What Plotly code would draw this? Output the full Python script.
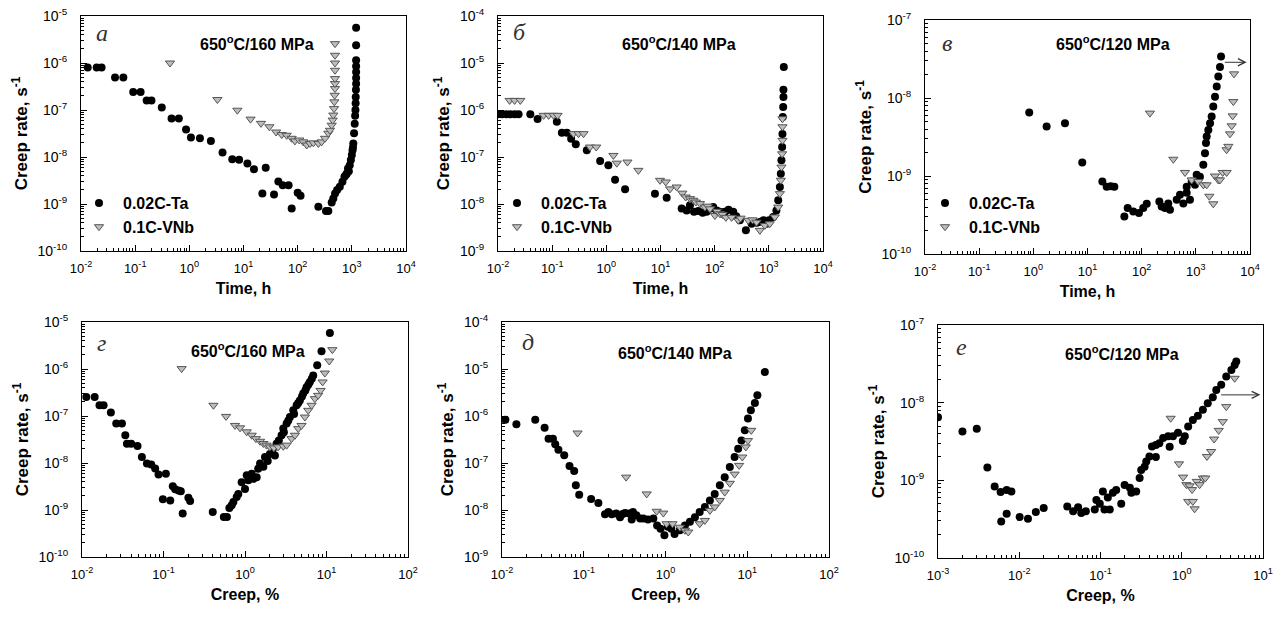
import math
import plotly.graph_objects as go

FONT = "Arial, 'Liberation Sans', sans-serif"
SERIF = "'Liberation Serif', 'Times New Roman', serif"

# --- data: (time h or creep %, creep rate 1/s) ---
time_ta_160 = [
    (0.0133, 8e-7), (0.0195, 8e-7), (0.024, 8e-7), (0.0425, 4.9e-7), (0.0605, 4.9e-7),
    (0.092, 2.43e-7), (0.126, 2.43e-7), (0.163, 1.6e-7), (0.2, 1.6e-7), (0.31, 1.13e-7),
    (0.47, 6.6e-8), (0.64, 6.6e-8), (0.87, 3.85e-8), (1.07, 2.6e-8), (1.57, 2.5e-8),
    (2.5, 2.2e-8), (4.1, 1.25e-8), (6.2, 9.0e-9), (8.3, 8.7e-9), (11.8, 7.3e-9),
    (15.6, 5.5e-9), (25.7, 5.9e-9), (22.3, 1.68e-9), (36.6, 1.6e-9), (44, 3.0e-9),
    (53, 2.5e-9), (68, 2.5e-9), (77.5, 8.05e-10), (100, 1.73e-9), (113, 1.5e-9),
    (241, 8.75e-10), (333, 7.1e-10), (368, 7.1e-10), (425, 1.08e-9), (455, 1.31e-9),
    (490, 1.68e-9), (535, 1.98e-9), (600, 2.33e-9), (670, 2.97e-9), (730, 3.8e-9),
    (780, 4.2e-9), (810, 4.47e-9), (850, 5.7e-9), (880, 5.0e-9), (915, 6.7e-9),
    (960, 8.6e-9), (1000, 1.1e-8), (1030, 1.4e-8), (1050, 1.6e-8), (1065, 1.94e-8),
    (1100, 3.2e-8), (1130, 5.1e-8), (1150, 7.5e-8), (1165, 1.0e-7), (1175, 1.4e-7),
    (1180, 1.9e-7), (1190, 2.7e-7), (1200, 3.6e-7), (1200, 4.8e-7), (1200, 6.4e-7),
    (1200, 8.5e-7), (1200, 1.15e-6), (1200, 2.4e-6), (1200, 5.6e-6),
]
time_vnb_160 = [
    (0.44, 1.0e-6), (3.3, 1.67e-7), (7.7, 9.9e-8), (13.5, 6.4e-8), (21, 5.2e-8),
    (30, 4.4e-8), (40, 3.4e-8), (50.7, 3.0e-8), (62.7, 2.9e-8), (77.5, 2.5e-8),
    (89, 2.2e-8), (107, 2.3e-8), (127, 2.1e-8), (147, 1.8e-8), (169, 1.94e-8),
    (195, 2.0e-8), (241, 1.94e-8), (277, 2.1e-8), (320, 2.5e-8), (368, 3.2e-8),
    (395, 3.7e-8), (425, 4.75e-8), (443, 6.1e-8), (455, 7.8e-8), (469, 1.07e-7),
    (475, 1.49e-7), (482, 2.06e-7), (489, 2.86e-7), (489, 3.65e-7), (489, 4.67e-7),
    (489, 7.0e-7), (489, 1.0e-6), (489, 1.46e-6), (489, 2.58e-6),
]
time_ta_140 = [
    (0.01, 8.1e-7), (0.0119, 8.1e-7), (0.0143, 8.1e-7), (0.0169, 8.1e-7), (0.0203, 8.1e-7),
    (0.024, 8.1e-7), (0.0395, 8.1e-7), (0.0538, 6.4e-7), (0.122, 5.6e-7), (0.151, 3.3e-7),
    (0.187, 3.3e-7), (0.224, 2.46e-7), (0.273, 1.86e-7), (0.436, 1.39e-7), (0.769, 8.2e-8),
    (1.09, 6.65e-8), (1.45, 3.3e-8), (2.22, 2.05e-8), (7.9, 1.66e-8), (13, 1.36e-8),
    (24.6, 8.0e-9), (30.4, 7.3e-9), (35, 9.4e-9), (41.5, 6.8e-9), (49.9, 7.1e-9),
    (60, 6.5e-9), (71, 6.8e-9), (85, 8.0e-9), (94, 8.6e-9), (109, 7.3e-9),
    (125, 6.8e-9), (140, 6.2e-9), (155, 6.8e-9), (180, 7.5e-9), (220, 6.8e-9),
    (250, 5.5e-9), (292, 4.5e-9), (377, 2.75e-9), (480, 3.8e-9), (600, 4.0e-9),
    (700, 4.2e-9), (800, 4.5e-9), (906, 3.8e-9), (1010, 4.5e-9), (1200, 5.3e-9),
    (1380, 7.3e-9), (1490, 1.2e-8), (1600, 2.3e-8), (1665, 4.4e-8), (1710, 8.5e-8),
    (1760, 1.63e-7), (1785, 3.1e-7), (1810, 7.1e-7), (1840, 1.16e-6), (1860, 1.9e-6),
    (1860, 2.7e-6), (1890, 8.2e-6),
]
time_vnb_140 = [
    (0.0164, 1.6e-6), (0.0203, 1.6e-6), (0.0258, 1.6e-6), (0.0695, 7.7e-7), (0.086, 7.7e-7),
    (0.106, 7.7e-7), (0.126, 7.7e-7), (0.248, 3.14e-7), (0.306, 3.14e-7), (0.379, 3.14e-7),
    (0.5, 1.63e-7), (0.65, 1.63e-7), (1.35, 1.08e-7), (1.56, 7.4e-8), (2.45, 7.8e-8),
    (3.9, 5.2e-8), (9.8, 3.19e-8), (12.5, 2.94e-8), (15, 2.1e-8), (19.9, 2.3e-8),
    (25.3, 1.7e-8), (29.1, 1.41e-8), (35, 1.3e-8), (40.4, 1.2e-8), (45, 1.1e-8),
    (53.6, 1.02e-8), (66, 8.6e-9), (75, 9.0e-9), (82, 7.9e-9), (101, 5.7e-9),
    (110, 7.0e-9), (125, 6.2e-9), (140, 6.0e-9), (161, 5.2e-9), (205, 5.2e-9),
    (272, 4.5e-9), (300, 5.0e-9), (416, 4.5e-9), (500, 4.6e-9), (592, 4.1e-9),
    (683, 2.75e-9), (843, 3.5e-9), (1040, 3.8e-9), (1290, 5.3e-9), (1490, 8.6e-9),
    (1600, 1.66e-8), (1665, 3.2e-8), (1710, 6.1e-8), (1760, 1.17e-7), (1785, 2.26e-7),
    (1785, 4.4e-7), (1785, 6.5e-7),
]
time_ta_120 = [
    (0.84, 6.5e-9), (1.76, 4.3e-9), (3.84, 4.75e-9), (8.0, 1.49e-9), (18.8, 8.5e-10),
    (22.6, 7.3e-10), (26.8, 7.4e-10), (31.3, 7.3e-10), (47.9, 3.03e-10), (55.2, 3.9e-10),
    (70, 3.5e-10), (89, 3.35e-10), (107, 3.9e-10), (124, 4.4e-10), (212, 4.7e-10),
    (234, 4.07e-10), (270, 3.9e-10), (310, 4.45e-10), (333, 3.7e-10), (443, 4.95e-10),
    (510, 5.75e-10), (588, 4.45e-10), (677, 6.1e-10), (677, 7.3e-10), (780, 4.95e-10),
    (838, 8.5e-10), (966, 7.7e-10), (1036, 1.04e-9), (1190, 9.8e-10), (1375, 1.39e-9),
    (1475, 1.96e-9), (1540, 2.64e-9), (1585, 3.2e-9), (1700, 3.9e-9), (1830, 4.75e-9),
    (1960, 5.8e-9), (2100, 7.8e-9), (2260, 1.04e-8), (2430, 1.4e-8), (2600, 1.88e-8),
    (2790, 2.5e-8), (2920, 3.4e-8),
]
time_vnb_120 = [
    (142, 6.4e-9), (384, 1.64e-9), (631, 1.11e-9), (838, 8.9e-10), (1110, 8.5e-10),
    (1375, 7.7e-10), (1585, 7.7e-10), (1775, 5.5e-10), (2100, 4.4e-10), (2260, 1.0e-9),
    (2600, 8.9e-10), (2790, 8.9e-10), (3130, 1.11e-9), (3700, 1.11e-9), (3700, 2.17e-9),
    (3980, 2.4e-9), (4270, 3.47e-9), (4590, 4.4e-9), (4790, 5.9e-9), (4920, 9.0e-9),
    (5070, 2.04e-8),
]
creep_ta_160 = [
    (0.0113, 2.54e-7), (0.0143, 2.54e-7), (0.0164, 1.69e-7), (0.0184, 1.69e-7), (0.0226, 1.18e-7),
    (0.0263, 6.9e-8), (0.0309, 6.9e-8), (0.034, 3.88e-8), (0.0356, 2.58e-8), (0.0402, 2.58e-8),
    (0.048, 2.3e-8), (0.0543, 1.34e-8), (0.0626, 9.7e-9), (0.0707, 9.3e-9), (0.079, 7.6e-9),
    (0.0869, 5.7e-9), (0.107, 5.9e-9), (0.0982, 1.69e-9), (0.121, 1.6e-9), (0.13, 3.2e-9),
    (0.139, 2.75e-9), (0.153, 2.6e-9), (0.163, 2.5e-9), (0.172, 8.4e-10), (0.202, 1.83e-9),
    (0.212, 1.56e-9), (0.402, 9.1e-10), (0.55, 7.1e-10), (0.6, 7.1e-10), (0.643, 1.1e-9),
    (0.687, 1.26e-9), (0.72, 1.48e-9), (0.79, 1.89e-9), (0.828, 2.2e-9), (0.91, 3.9e-9),
    (1.0, 2.8e-9), (1.05, 5.5e-9), (1.1, 4.3e-9), (1.21, 5.9e-9), (1.27, 4.6e-9),
    (1.39, 5.0e-9), (1.45, 7.5e-9), (1.53, 9.7e-9), (1.68, 8.3e-9), (1.76, 1.34e-8),
    (1.9, 1.1e-8), (2.02, 1.55e-8), (2.2, 2.0e-8), (2.33, 1.45e-8), (2.44, 2.58e-8),
    (2.6, 3.0e-8), (2.81, 3.88e-8), (2.95, 5.4e-8), (3.0, 4.5e-8), (3.24, 6.9e-8),
    (3.4, 8.0e-8), (3.56, 9.5e-8), (3.91, 1.32e-7), (4.0, 1.1e-7), (4.3, 1.69e-7),
    (4.5, 1.9e-7), (4.71, 2.15e-7), (5.0, 2.6e-7), (5.18, 3.0e-7), (5.5, 3.5e-7),
    (5.69, 4.1e-7), (6.0, 4.7e-7), (6.25, 5.3e-7), (6.6, 6.2e-7), (6.87, 7.3e-7),
    (7.69, 1.2e-6), (8.69, 2.4e-6), (11.0, 5.8e-6),
]
creep_vnb_160 = [
    (0.167, 1.02e-6), (0.41, 1.69e-7), (0.585, 9.8e-8), (0.755, 6.3e-8), (0.87, 5.6e-8),
    (1.05, 4.6e-8), (1.21, 3.9e-8), (1.36, 3.3e-8), (1.53, 2.9e-8), (1.68, 2.6e-8),
    (1.84, 2.4e-8), (2.02, 2.2e-8), (2.26, 2.1e-8), (2.55, 2.2e-8), (2.95, 2.27e-8),
    (3.24, 2.4e-8), (3.72, 3.3e-8), (4.1, 3.9e-8), (4.5, 5.4e-8), (4.94, 6.3e-8),
    (5.43, 9.5e-8), (5.97, 1.32e-7), (6.56, 1.69e-7), (7.2, 2.34e-7), (7.9, 2.75e-7),
    (8.46, 3.5e-7), (8.96, 5.3e-7), (9.55, 8.2e-7), (10.8, 1.48e-6), (11.8, 2.58e-6),
]
creep_ta_140 = [
    (0.011, 8.35e-7), (0.015, 6.65e-7), (0.0255, 8.35e-7), (0.0332, 5.65e-7), (0.0371, 3.3e-7),
    (0.042, 3.3e-7), (0.0448, 2.5e-7), (0.049, 1.92e-7), (0.0577, 1.46e-7), (0.067, 8.6e-8),
    (0.0764, 6.76e-8), (0.08, 3.35e-8), (0.088, 2.12e-8), (0.123, 1.71e-8), (0.151, 1.41e-8),
    (0.182, 8.1e-9), (0.2, 9.1e-9), (0.22, 8.1e-9), (0.25, 8.4e-9), (0.278, 7.0e-9),
    (0.3, 8.2e-9), (0.32, 8.6e-9), (0.36, 8.4e-9), (0.386, 6.3e-9), (0.4, 9.1e-9),
    (0.44, 7.7e-9), (0.49, 6.6e-9), (0.535, 6.6e-9), (0.61, 6.3e-9), (0.71, 6.6e-9),
    (0.79, 4.7e-9), (0.87, 4.0e-9), (0.97, 2.9e-9), (1.07, 4.4e-9), (1.18, 4.0e-9),
    (1.29, 3.1e-9), (1.5, 3.7e-9), (1.73, 4.7e-9), (1.99, 5.6e-9), (2.29, 7.0e-9),
    (2.62, 9.1e-9), (3.03, 1.16e-8), (3.49, 1.6e-8), (4.0, 2.2e-8), (4.62, 3.35e-8),
    (5.3, 5.0e-8), (6.12, 8.2e-8), (7.0, 1.34e-7), (7.74, 2.0e-7), (8.5, 3.0e-7),
    (9.35, 4.95e-7), (10.2, 8.8e-7), (11.07, 1.32e-6), (12.4, 1.9e-6), (13.3, 2.75e-6),
    (16.4, 8.6e-6),
]
creep_vnb_140 = [
    (0.084, 4.35e-7), (0.33, 5.0e-8), (0.589, 2.2e-8), (0.78, 9.4e-9), (0.94, 8.6e-9),
    (1.03, 5.1e-9), (1.22, 5.1e-9), (1.5, 4.3e-9), (1.73, 3.7e-9), (1.9, 3.4e-9),
    (2.62, 5.1e-9), (3.03, 6.0e-9), (3.49, 9.8e-9), (4.0, 1.16e-8), (4.62, 1.6e-8),
    (5.3, 2.4e-8), (6.12, 3.7e-8), (7.0, 5.8e-8), (7.95, 8.9e-8), (8.7, 1.34e-7),
    (9.6, 2.2e-7), (10.2, 3.0e-7), (11.2, 4.95e-7),
]
creep_ta_120 = [
    (0.001, 6.5e-9), (0.002, 4.25e-9), (0.003, 4.6e-9), (0.00405, 1.46e-9), (0.00498, 8.3e-10),
    (0.0059, 7.05e-10), (0.007, 7.5e-10), (0.008, 7.2e-10), (0.006, 2.96e-10), (0.007, 3.7e-10),
    (0.0101, 3.37e-10), (0.0128, 3.2e-10), (0.016, 3.9e-10), (0.02, 4.4e-10), (0.039, 4.6e-10),
    (0.046, 4.0e-10), (0.053, 4.5e-10), (0.058, 3.8e-10), (0.066, 4.0e-10), (0.085, 4.2e-10),
    (0.089, 5.6e-10), (0.098, 5.0e-10), (0.107, 7.2e-10), (0.112, 4.2e-10), (0.123, 6.0e-10),
    (0.13, 4.2e-10), (0.142, 6.9e-10), (0.156, 7.5e-10), (0.18, 5.0e-10), (0.198, 8.7e-10),
    (0.23, 8.0e-10), (0.24, 6.9e-10), (0.275, 7.2e-10), (0.303, 1.07e-9), (0.317, 1.36e-9),
    (0.349, 1.5e-9), (0.366, 1.75e-9), (0.4, 2.03e-9), (0.43, 2.72e-9), (0.48, 2.0e-9),
    (0.48, 2.86e-9), (0.53, 3.0e-9), (0.59, 3.5e-9), (0.68, 3.7e-9), (0.71, 2.7e-9),
    (0.78, 3.7e-9), (0.9, 4.1e-9), (1.03, 3.2e-9), (1.09, 3.7e-9), (1.2, 4.93e-9),
    (1.37, 6.0e-9), (1.58, 6.76e-9), (1.82, 8.1e-9), (2.09, 9.85e-9), (2.41, 1.17e-8),
    (2.66, 1.46e-8), (3.06, 1.7e-8), (3.53, 2.17e-8), (4.08, 2.64e-8), (4.48, 3.06e-8),
    (4.69, 3.38e-8),
]
creep_vnb_120 = [
    (0.73, 6.3e-9), (0.925, 1.63e-9), (1.04, 1.1e-9), (1.14, 8.8e-10), (1.25, 8.5e-10),
    (1.34, 7.6e-10), (1.2, 5.35e-10), (1.37, 5.35e-10), (1.44, 4.3e-10), (1.53, 9.7e-10),
    (1.66, 8.8e-10), (1.82, 1.07e-9), (1.95, 1.07e-9), (2.04, 2.03e-9), (2.3, 2.35e-9),
    (2.5, 3.4e-9), (2.85, 4.4e-9), (3.2, 5.7e-9), (3.53, 8.9e-9), (4.48, 2.06e-8),
]

# arrows showing the test was not finished: (x start, x end, y)
arrow_time_120 = (3220, 8670, 2.87e-8)
arrow_creep_120 = (2.93, 9.27, 1.26e-8)

SERIES = ["0.02C-Ta", "0.1C-VNb"]
LETTERS = ["а", "б", "в", "г", "д", "е"]
LABELS = ["650<sup>o</sup>C/160 MPa", "650<sup>o</sup>C/140 MPa", "650<sup>o</sup>C/120 MPa"] * 2

# --- panel geometry in page pixels ---
W, H = 1282, 619


def px(x):
    return x / W


def py(y):
    return 1 - y / H


boxes = [(81, 406, 16, 251), (498, 823, 16, 251), (925, 1250, 20, 254),
         (82, 408, 322, 557), (502, 829, 322, 557), (938, 1263, 325, 558)]
xranges = [(-2, 4), (-2, 4), (-2, 4), (-2, 2), (-2, 2), (-3, 1)]
yranges = [(-10, -5), (-9, -4), (-10, -7), (-10, -5), (-9, -4), (-10, -7)]
xtitles = ["Time, h"] * 3 + ["Creep, %"] * 3
letter_pos = [(0.04, 0.928), (0.04, 0.93), (0.045, 0.90), (0.04, 0.91), (0.055, 0.915), (0.05, 0.905)]
label_pos = [(0.54, 0.885), (0.557, 0.885), (0.578, 0.90), (0.51, 0.88), (0.53, 0.872), (0.566, 0.88)]

data = [(time_ta_160, time_vnb_160), (time_ta_140, time_vnb_140), (time_ta_120, time_vnb_120),
        (creep_ta_160, creep_vnb_160), (creep_ta_140, creep_vnb_140), (creep_ta_120, creep_vnb_120)]


def log_axis(lo, hi, title, domain, anchor, is_x):
    vals = [10.0 ** e for e in range(lo, hi + 1)]
    text = [f"10<sup>{e}</sup>" for e in range(lo, hi + 1)]
    minor = [m * 10.0 ** e for e in range(lo, hi) for m in range(2, 10)]
    return dict(
        type="log", range=[lo, hi], domain=domain, anchor=anchor, automargin=False,
        tickmode="array", tickvals=vals, ticktext=text, ticklabeloverflow="allow",
        ticks="inside", ticklen=6, tickwidth=1, tickcolor="black",
        ticklabelstandoff=5 if is_x else 10,
        minor=dict(tickmode="array", tickvals=minor, ticks="inside", ticklen=3,
                   tickwidth=1, tickcolor="black", showgrid=False),
        showline=True, mirror=True, linecolor="black", linewidth=1,
        showgrid=False, zeroline=False,
        tickfont=dict(family=FONT, size=13 if is_x else 14, color="black"),
        title=dict(text=f"<b>{title}</b>",
                   font=dict(family=FONT, size=16 if is_x else 17, color="black"),
                   standoff=8 if is_x else 5),
    )


fig = go.Figure()
layout = dict(width=W, height=H, margin=dict(l=0, r=0, t=0, b=0),
              paper_bgcolor="white", plot_bgcolor="white", annotations=[])

legend_names = ["legend", "legend2", "legend3"]
legend_x = [75, 493, 921]

for i in range(6):
    n = "" if i == 0 else str(i + 1)
    x0, x1, y0, y1 = boxes[i]
    layout["xaxis" + n] = log_axis(*xranges[i], xtitles[i], [px(x0), px(x1)], "y" + n, True)
    layout["yaxis" + n] = log_axis(*yranges[i], "Creep rate, s<sup>-1</sup>",
                                   [py(y1), py(y0)], "x" + n, False)

    ta, vnb = data[i]
    show = i < 3
    leg = legend_names[i] if show else None
    fig.add_trace(go.Scatter(
        x=[p[0] for p in ta], y=[p[1] for p in ta], mode="markers", name=f"<b>{SERIES[0]}</b>",
        marker=dict(symbol="circle", size=8, color="black"),
        xaxis="x" + n, yaxis="y" + n, showlegend=show, legend=leg))
    fig.add_trace(go.Scatter(
        x=[p[0] for p in vnb], y=[p[1] for p in vnb], mode="markers", name=f"<b>{SERIES[1]}</b>",
        marker=dict(symbol="triangle-down", size=8, color="#bdbdbd",
                    line=dict(color="#555555", width=1)),
        xaxis="x" + n, yaxis="y" + n, showlegend=show, legend=leg))

    lx, ly = letter_pos[i]
    layout["annotations"].append(dict(
        text=f"<i>{LETTERS[i]}</i>", x=lx, y=ly, xref=f"x{n} domain", yref=f"y{n} domain",
        showarrow=False, xanchor="left", yanchor="middle",
        font=dict(family=SERIF, size=24, color="#333333")))
    lbx, lby = label_pos[i]
    layout["annotations"].append(dict(
        text=f"<b>{LABELS[i]}</b>", x=lbx, y=lby, xref=f"x{n} domain", yref=f"y{n} domain",
        showarrow=False, xanchor="center", yanchor="middle",
        font=dict(family=FONT, size=16, color="black")))

for k in range(3):
    layout[legend_names[k]] = dict(
        x=px(legend_x[k]), y=py(186), xanchor="left", yanchor="top",
        bgcolor="rgba(0,0,0,0)", font=dict(family=FONT, size=16, color="black"),
        itemwidth=38, tracegroupgap=0)

for n, arr in (("3", arrow_time_120), ("6", arrow_creep_120)):
    xs, xe, yv = arr
    layout["annotations"].append(dict(
        x=math.log10(xe), y=math.log10(yv), ax=math.log10(xs), ay=math.log10(yv),
        xref="x" + n, yref="y" + n, axref="x" + n, ayref="y" + n,
        text="", showarrow=True, arrowhead=5, arrowsize=1.4, arrowwidth=1, arrowcolor="#333333"))

fig.update_layout(**layout)
# the page body has a default 8 px margin; drop it so the figure fills the window
fig.write_html("out.html", config={"displayModeBar": False},
               post_script="document.body.style.margin = '0';")
